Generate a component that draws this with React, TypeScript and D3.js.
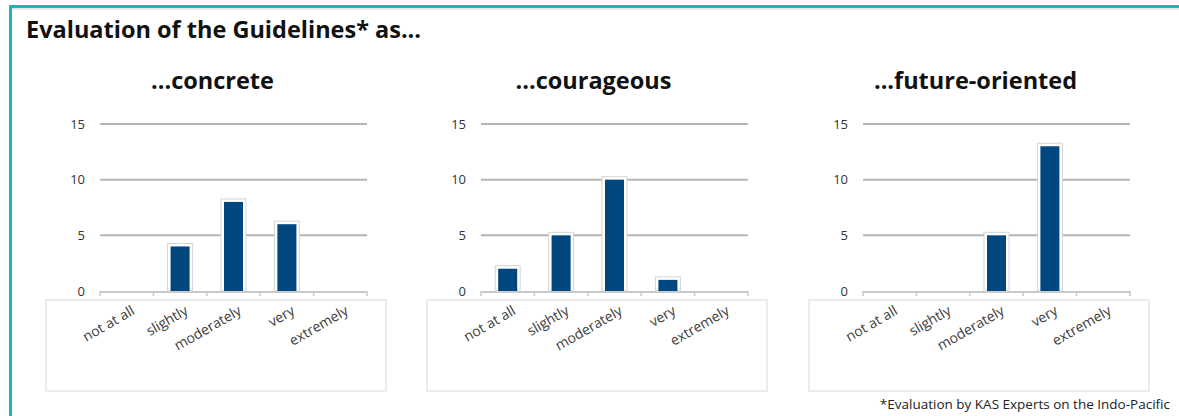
import React from "react";
import * as d3 from "d3";

const categories = ["not at all", "slightly", "moderately", "very", "extremely"];
const panelTitles = ["...concrete", "...courageous", "...future-oriented"];
const concreteValues = [0, 4, 8, 6, 0];
const courageousValues = [2, 5, 10, 1, 0];
const futureValues = [0, 0, 5, 13, 0];
const yTicks = [0, 5, 10, 15];

const seriesList = [concreteValues, courageousValues, futureValues];

const W = 1179;
const H = 416;
const FONT = "'Open Sans', 'Noto Sans', sans-serif";
const BAR = "#00467f";

// plot left edge for each panel
const panelX = [100, 481, 863];
const plotW = 267;
const plotTop = 124;
const plotBottom = 291;

const Panel: React.FC<{ idx: number }> = ({ idx }) => {
  const x0 = panelX[idx];
  const values = seriesList[idx];
  const x = d3.scaleBand().domain(categories).range([x0, x0 + plotW]).paddingInner(0).paddingOuter(0);
  const y = d3.scaleLinear().domain([0, 15]).range([plotBottom, plotTop]);
  const bw = 19;
  const boundaries = d3.range(categories.length + 1).map((i) => x0 + i * x.step());

  return (
    <g>
      <text x={x0 + plotW / 2 - 21} y={89} textAnchor="middle" fontFamily={FONT} fontWeight={700} fontSize={23.5} fill="#111">
        {panelTitles[idx]}
      </text>
      {/* label area box */}
      <rect x={x0 - 54} y={300} width={plotW + 73} height={91} fill="none" stroke="#d9d9d9" strokeWidth={1} />
      {yTicks.map((t) => (
        <g key={t}>
          {t > 0 && <line x1={x0} x2={x0 + plotW} y1={y(t)} y2={y(t)} stroke="#b5b5b5" strokeWidth={2} />}
          <text x={x0 - 15} y={y(t) + 4.5} textAnchor="end" fontFamily={FONT} fontSize={13} fill="#333">
            {t}
          </text>
        </g>
      ))}
      {/* axis */}
      <line x1={x0} x2={x0 + plotW} y1={plotBottom + 1} y2={plotBottom + 1} stroke="#c8c8c8" strokeWidth={2} />
      {boundaries.map((bx, i) => (
        <line key={i} x1={bx} x2={bx} y1={plotBottom} y2={plotBottom + 5} stroke="#c8c8c8" strokeWidth={1.5} />
      ))}
      {values.map((v, i) => {
        if (v <= 0) return null;
        const cx = (x(categories[i]) as number) + x.bandwidth() / 2;
        return (
          <g key={i}>
            <rect x={cx - bw / 2 - 3} y={y(v) - 3} width={bw + 6} height={plotBottom - y(v) + 3} fill="#fff" stroke="#d4d4d4" strokeWidth={1} />
            <rect x={cx - bw / 2} y={y(v)} width={bw} height={plotBottom - y(v)} fill={BAR} />
          </g>
        );
      })}
      {categories.map((c, i) => {
        const cx = (x(c) as number) + x.bandwidth() / 2 + 4;
        return (
          <text
            key={c}
            transform={`translate(${cx},${305}) rotate(-30)`}
            textAnchor="end"
            dy="0.7em"
            fontFamily={FONT}
            fontSize={14}
            fill="#404040"
          >
            {c}
          </text>
        );
      })}
    </g>
  );
};

const App: React.FC = () => {
  return (
    <div style={{ position: "absolute", left: 0, top: 0, width: W, height: H, background: "#fff" }}>
      <svg width={W} height={H} style={{ display: "block" }}>
        <rect width={W} height={H} fill="#fff" />
        {/* frame */}
        <line x1={9} x2={W} y1={9} y2={9} stroke="#cfcfcf" strokeWidth={1} />
        <rect x={9} y={5} width={W - 9} height={3} fill="#17b7bc" />
        <rect x={9} y={5} width={3} height={H - 5} fill="#17b7bc" />
        <text x={26} y={38} fontFamily={FONT} fontWeight={700} fontSize={23.5} fill="#111">
          Evaluation of the Guidelines* as...
        </text>
        {panelTitles.map((_, i) => (
          <Panel key={i} idx={i} />
        ))}
        <text x={1170} y={409} textAnchor="end" fontFamily={FONT} fontSize={13.5} fill="#222">
          *Evaluation by KAS Experts on the Indo-Pacific
        </text>
      </svg>
    </div>
  );
};

export default App;
